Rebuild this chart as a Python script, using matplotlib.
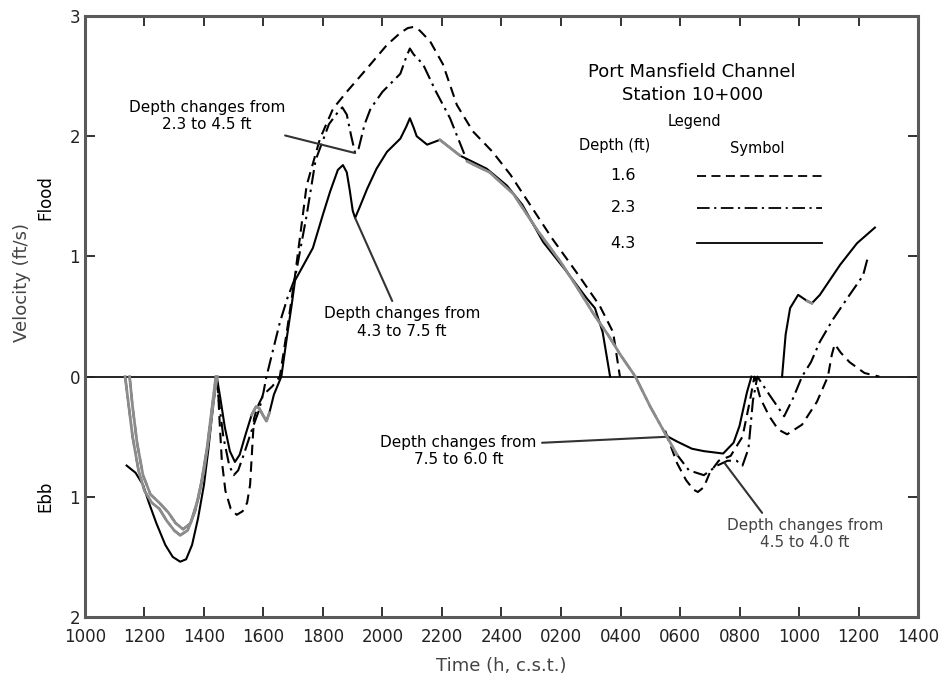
import numpy as np
import matplotlib.pyplot as plt

# hours counted from 1000 of the first day (10 = 1000, 24 = 2400, 38 = 1400 next day)
tick_hours = [10, 12, 14, 16, 18, 20, 22, 24, 26, 28, 30, 32, 34, 36, 38]
tick_labels = ['1000', '1200', '1400', '1600', '1800', '2000', '2200', '2400',
               '0200', '0400', '0600', '0800', '1000', '1200', '1400']
vel_ticks = [-2, -1, 0, 1, 2, 3]
vel_labels = ['2', '1', '0', '1', '2', '3']

# depth 1.6 ft (dashed)
t_16 = [11.5, 11.6, 11.75, 11.95, 12.2, 12.5, 12.8, 13.05, 13.3, 13.55, 13.8, 14.0, 14.2, 14.35, 14.45,
        14.52, 14.6, 14.72, 14.9, 15.1, 15.3, 15.45, 15.55, 15.62, 15.68, 15.8, 16.0, 16.3, 16.55,
        16.8, 17.06,
        17.45, 17.9, 18.34, 18.8, 19.5, 20.15, 20.6, 20.85, 21.05, 21.25, 21.6, 22.03, 22.5, 23.04, 23.7,
        24.3, 24.96, 25.7, 26.6, 27.3, 27.75, 27.98,
        np.nan,
        29.5, 29.9, 30.2, 30.45, 30.6, 30.8, 31.0, 31.3, 31.7, 32.1, 32.35, 32.5,
        32.7, 33.0, 33.3, 33.6, 34.1, 34.6, 34.97, 35.1, 35.2, 35.4, 35.7, 36.2, 36.7]
v_16 = [0, -0.25, -0.55, -0.82, -0.98, -1.05, -1.13, -1.22, -1.27, -1.22, -1.02, -0.78, -0.45, -0.15, 0,
        -0.35, -0.7, -0.95, -1.1, -1.15, -1.12, -1.05, -0.9, -0.6, -0.35, -0.25, -0.15, -0.08, 0,
        0.4, 0.84,
        1.59, 1.98, 2.23, 2.37, 2.57, 2.76, 2.86, 2.9, 2.91, 2.88, 2.79, 2.6, 2.26, 2.04, 1.87,
        1.68, 1.43, 1.15, 0.84, 0.59, 0.37, 0,
        np.nan,
        -0.45, -0.72, -0.86, -0.94, -0.96, -0.92, -0.8, -0.7, -0.66, -0.5, -0.2, 0,
        -0.18, -0.33, -0.44, -0.48, -0.4, -0.21, 0, 0.18, 0.27, 0.2, 0.12, 0.03, 0]

# depth 2.3 ft (dash-dot)
t_23 = [11.35, 11.45, 11.6, 11.8, 12.0, 12.25, 12.5, 12.75, 13.0, 13.2, 13.45, 13.7, 13.9, 14.1, 14.25, 14.4,
        14.5, 14.65, 14.85, 15.0, 15.15, 15.35, 15.6, 15.85, 16.0, 16.1, 16.3, 16.55, 16.8, 17.06,
        17.45, 17.75, 18.2, 18.5, 18.65, 18.8, 18.95, 19.08, 19.2, 19.4, 19.6, 20.0, 20.6, 20.8, 20.92, 21.05,
        21.36, 21.8, 22.27, 22.85, 23.6, 24.4, 25.2, 25.97, 26.6, 27.1, 27.6, 28.0, 28.5,
        29.0, 29.56, 29.9, 30.3, 30.8, 31.25, 31.6, 31.9, 32.1, 32.3, 32.45, 32.6,
        33.0, 33.5, 33.8, 34.1, 34.4, 34.7, 35.15, 35.7, 36.15, 36.3]
v_23 = [0, -0.2, -0.5, -0.78, -0.95, -1.05, -1.1, -1.2, -1.28, -1.32, -1.28, -1.12, -0.9, -0.6, -0.3, 0,
        -0.2, -0.5, -0.74, -0.82, -0.78, -0.64, -0.45, -0.28, -0.13, 0, 0.2, 0.45, 0.65, 0.82,
        1.34, 1.8, 2.1, 2.2, 2.24, 2.18, 2.0, 1.86, 1.9, 2.1, 2.23, 2.37, 2.52, 2.66, 2.73, 2.68,
        2.6, 2.37, 2.15, 1.79, 1.7, 1.52, 1.22, 0.96, 0.72, 0.52, 0.34, 0.18, 0,
        -0.25, -0.5, -0.65, -0.78, -0.82, -0.74, -0.7, -0.7, -0.74, -0.6, -0.2, 0,
        -0.15, -0.33, -0.18, 0, 0.12, 0.29, 0.48, 0.68, 0.84, 0.98]

# depth 4.3 ft (solid)
t_43 = [11.4, 11.7, 11.95, 12.15, 12.4, 12.7, 12.95, 13.2, 13.4, 13.6, 13.8, 14.0, 14.15, 14.3, 14.43,
        14.55, 14.7, 14.87, 15.04, 15.2, 15.4, 15.6, 15.75, 15.85, 15.98, 16.1, 16.2, 16.35, 16.6,
        16.8, 16.95, 17.06,
        17.66, 18.0, 18.24, 18.5, 18.67, 18.8, 18.9, 19.0, 19.08, 19.25, 19.48, 19.8, 20.15, 20.6,
        20.8, 20.92, 21.05, 21.15, 21.5, 21.93,
        22.6, 23.5, 24.18, 24.7, 25.4, 26.2, 26.87, 27.14, 27.4, 27.65,
        np.nan,
        29.6, 29.9, 30.4, 30.8, 31.45, 31.8, 32.0, 32.25, 32.4,
        np.nan,
        33.43, 33.55, 33.7, 33.97, 34.27, 34.43, 34.7, 35.38, 35.95, 36.55]
v_43 = [-0.74, -0.8, -0.9, -1.05, -1.22, -1.4, -1.5, -1.54, -1.52, -1.4, -1.18, -0.9, -0.6, -0.25, 0,
        -0.18, -0.42, -0.62, -0.71, -0.65, -0.48, -0.32, -0.25, -0.26, -0.32, -0.37, -0.3, -0.15, 0,
        0.35, 0.6, 0.8,
        1.07, 1.35, 1.54, 1.72, 1.76, 1.7, 1.55, 1.38, 1.32, 1.42, 1.56, 1.73, 1.87, 1.98,
        2.08, 2.15, 2.07, 2.0, 1.93, 1.97,
        1.84, 1.73, 1.59, 1.43, 1.12, 0.87, 0.65, 0.57, 0.37, 0,
        np.nan,
        -0.5, -0.54, -0.6, -0.62, -0.64, -0.55, -0.41, -0.13, 0,
        np.nan,
        0, 0.35, 0.57, 0.68, 0.63, 0.61, 0.68, 0.93, 1.11, 1.24]

series = [
    (t_16, v_16, (0, (5, 3)), [(11.5, 14.45)]),
    (t_23, v_23, (0, (7, 2.5, 1.2, 2.5)), [(11.35, 14.4), (22.85, 30.0)]),
    (t_43, v_43, '-', [(15.6, 16.3), (21.9, 22.7), (34.0, 34.6)]),
]

fig = plt.figure(figsize=(9.44, 6.86), dpi=100)
ax = fig.add_axes([0.090, 0.1006, 0.8825, 0.876])

ax.axhline(0, color='black', lw=1.2, zorder=1)

for t, v, ls, greys in series:
    t = np.array(t, dtype=float)
    v = np.array(v, dtype=float)
    ax.plot(t, v, color='black', lw=1.5, linestyle=ls, zorder=3,
            solid_joinstyle='round', dash_joinstyle='round')
    for a, b in greys:
        m = (t >= a) & (t <= b)
        ax.plot(t[m], v[m], color='#8c8c8c', lw=2.0, zorder=4, solid_joinstyle='round')

ax.set_xlim(10, 38)
ax.set_ylim(-2, 3)
ax.set_xticks(tick_hours)
ax.set_xticklabels(tick_labels)
ax.set_yticks(vel_ticks)
ax.set_yticklabels(vel_labels)
ax.tick_params(direction='in', length=7, width=1.3, top=True, right=True,
               labelsize=12, colors='#222222')
ax.tick_params(axis='x', pad=8)
for s in ax.spines.values():
    s.set_linewidth(2.2)
    s.set_color('#5a5a5a')

ax.set_xlabel('Time (h, c.s.t.)', fontsize=13, color='#444444', labelpad=8)
fig.text(0.023, 0.588, 'Velocity (ft/s)', rotation=90, fontsize=13, color='#444444',
         ha='center', va='center')
fig.text(0.048, 0.712, 'Flood', rotation=90, fontsize=12, ha='center', va='center')
fig.text(0.048, 0.276, 'Ebb', rotation=90, fontsize=12, ha='center', va='center')

# title and legend block
ax.text(0.729, 0.907, 'Port Mansfield Channel', transform=ax.transAxes,
        fontsize=13, ha='center', va='center')
ax.text(0.729, 0.869, 'Station 10+000', transform=ax.transAxes,
        fontsize=13, ha='center', va='center')
ax.text(0.731, 0.825, 'Legend', transform=ax.transAxes, fontsize=10.5,
        ha='center', va='center')
ax.text(0.636, 0.785, 'Depth (ft)', transform=ax.transAxes, fontsize=10.5,
        ha='center', va='center')
ax.text(0.807, 0.780, 'Symbol', transform=ax.transAxes, fontsize=10.5,
        ha='center', va='center')
depth_labels = ['1.6', '2.3', '4.3']
leg_y = [0.734, 0.681, 0.622]
for lab, y, (_, _, ls, _) in zip(depth_labels, leg_y, series):
    ax.text(0.646, y, lab, transform=ax.transAxes, fontsize=11.5,
            ha='center', va='center')
    ax.plot([0.735, 0.885], [y, y], transform=ax.transAxes, color='black',
            lw=1.3, linestyle=ls)

# depth-change notes
ann = dict(arrowstyle='-', color='#333333', lw=1.5, shrinkA=2, shrinkB=0)
ax.annotate('Depth changes from\n2.3 to 4.5 ft', xy=(19.08, 1.86), xytext=(14.1, 2.17),
            fontsize=11, ha='center', va='center', arrowprops=ann)
ax.annotate('Depth changes from\n4.3 to 7.5 ft', xy=(19.08, 1.32), xytext=(20.65, 0.45),
            fontsize=11, ha='center', va='center', arrowprops=ann)
ax.annotate('Depth changes from\n7.5 to 6.0 ft', xy=(29.6, -0.5), xytext=(22.55, -0.62),
            fontsize=11, ha='center', va='center',
            arrowprops=dict(ann, relpos=(1.0, 0.75)))
ax.annotate('Depth changes from\n4.5 to 4.0 ft', xy=(31.5, -0.72), xytext=(34.2, -1.31),
            fontsize=11, ha='center', va='center', color='#444444',
            arrowprops=dict(ann, relpos=(0.25, 1.0)))

fig.savefig('out.png', dpi=100)
